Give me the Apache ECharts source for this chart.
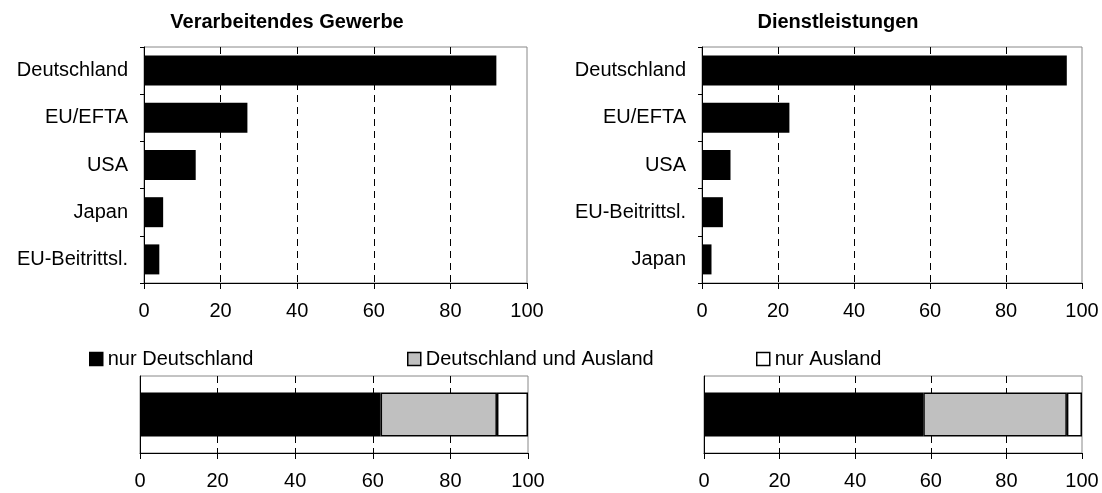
<!DOCTYPE html>
<html>
<head>
<meta charset="utf-8">
<title>Verarbeitendes Gewerbe / Dienstleistungen</title>
<script src="https://cdn.jsdelivr.net/npm/echarts@6/dist/echarts.min.js"></script>
<style>
  html, body { margin: 0; padding: 0; background: #fff; }
  #chart { width: 1102px; height: 493px; }
</style>
</head>
<body>
<div id="chart"></div>
<script>
// data
var titles = ["Verarbeitendes Gewerbe", "Dienstleistungen"];
var catsLeft = ["Deutschland", "EU/EFTA", "USA", "Japan", "EU-Beitrittsl."];
var valsLeft = [92, 27, 13.5, 5, 4];
var catsRight = ["Deutschland", "EU/EFTA", "USA", "EU-Beitrittsl.", "Japan"];
var valsRight = [96, 23, 7.5, 5.5, 2.5];
var legendNames = ["nur Deutschland", "Deutschland und Ausland", "nur Ausland"];
var shareLeft = [62, 30, 8];
var shareRight = [58, 38, 4];
var xTicks = [0, 20, 40, 60, 80, 100];

var FONT = "'Liberation Sans', Arial, sans-serif";
var segColors = ["#000000", "#c0c0c0", "#ffffff"];

function valueAxis(gridIndex) {
  return {
    type: "value",
    gridIndex: gridIndex,
    min: xTicks[0],
    max: xTicks[xTicks.length - 1],
    interval: xTicks[1] - xTicks[0],
    axisLine: { show: true, lineStyle: { color: "#000", width: 1 } },
    axisTick: { show: true, length: 6, lineStyle: { color: "#000" } },
    axisLabel: { fontSize: 20, color: "#000", fontFamily: FONT, margin: 18 },
    splitLine: {
      show: true,
      showMinLine: false,
      showMaxLine: false,
      lineStyle: { color: "#000", width: 1, type: [7, 5] }
    }
  };
}

function catAxis(gridIndex, cats, showLabels) {
  return {
    type: "category",
    gridIndex: gridIndex,
    data: cats,
    inverse: true,
    axisLine: { show: true, lineStyle: { color: "#000", width: 1 } },
    axisTick: { show: showLabels, length: 4, lineStyle: { color: "#000" } },
    axisLabel: { show: showLabels, fontSize: 20, color: "#000", fontFamily: FONT, margin: 16 }
  };
}

function grid(left, right, top, bottom) {
  return {
    left: left, right: right, top: top, bottom: bottom,
    show: true, borderColor: "#888", borderWidth: 1
  };
}

var series = [
  {
    type: "bar", xAxisIndex: 0, yAxisIndex: 0, data: valsLeft,
    barWidth: 30, itemStyle: { color: "#000" }, silent: true
  },
  {
    type: "bar", xAxisIndex: 1, yAxisIndex: 1, data: valsRight,
    barWidth: 30, itemStyle: { color: "#000" }, silent: true
  }
];

// stacked 100% bars underneath
[shareLeft, shareRight].forEach(function (vals, k) {
  vals.forEach(function (v, i) {
    series.push({
      name: legendNames[i],
      type: "bar",
      stack: "s" + k,
      xAxisIndex: 2 + k,
      yAxisIndex: 2 + k,
      data: [v],
      barWidth: 44,
      itemStyle: { color: segColors[i], borderColor: "#000", borderWidth: 1.5 }
    });
  });
});

var legendLeft = [89, 407, 756];
var legends = legendNames.map(function (n, i) {
  return {
    data: [n],
    left: legendLeft[i],
    top: 349,
    padding: 0,
    icon: "rect",
    itemWidth: 13,
    itemHeight: 13,
    itemGap: 0,
    selectedMode: false,
    itemStyle: { borderColor: "#000", borderWidth: 1.5 },
    textStyle: { fontSize: 20, color: "#000", fontFamily: FONT, padding: [0, 0, 0, 0] }
  };
});

var option = {
  backgroundColor: "#fff",
  animation: false,
  title: [
    {
      text: titles[0], left: 287, top: 12, textAlign: "center", padding: 0,
      textStyle: { fontSize: 20, fontWeight: "bold", color: "#000", fontFamily: FONT }
    },
    {
      text: titles[1], left: 838, top: 12, textAlign: "center", padding: 0,
      textStyle: { fontSize: 20, fontWeight: "bold", color: "#000", fontFamily: FONT }
    }
  ],
  legend: legends,
  grid: [
    grid(144, 575, 47, 210),
    grid(702, 20, 47, 210),
    grid(140, 574, 376, 40),
    grid(704, 20, 376, 40)
  ],
  xAxis: [valueAxis(0), valueAxis(1), valueAxis(2), valueAxis(3)],
  yAxis: [
    catAxis(0, catsLeft, true),
    catAxis(1, catsRight, true),
    catAxis(2, [""], false),
    catAxis(3, [""], false)
  ],
  series: series
};

var chart = echarts.init(document.getElementById("chart"), null, { renderer: "canvas" });
chart.setOption(option);
</script>
</body>
</html>
